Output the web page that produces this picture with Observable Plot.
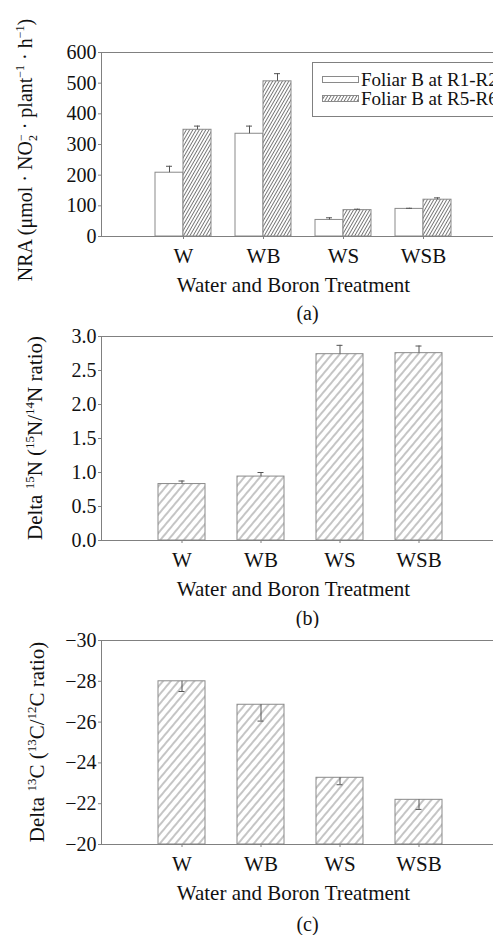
<!DOCTYPE html>
<html><head><meta charset="utf-8">
<script src="https://cdn.jsdelivr.net/npm/d3@7"></script>
<script src="https://cdn.jsdelivr.net/npm/@observablehq/plot@0.6"></script>
<style>
html,body{margin:0;padding:0;background:#fff;overflow:hidden;width:493px;height:935px}
#chart svg{display:block}
</style></head><body><div id="chart"></div>
<script>
// ---- data ----
const treatments = ["W", "WB", "WS", "WSB"];
const legendLabels = ["Foliar B at R1-R2", "Foliar B at R5-R6"];
const nraR1R2 = [208, 335, 54, 90];
const nraR1R2Err = [21, 25, 7, 2];
const nraR5R6 = [348, 506, 86, 120];
const nraR5R6Err = [12, 25, 3, 6];
const n15 = [0.83, 0.94, 2.74, 2.755];
const n15Err = [0.045, 0.06, 0.13, 0.105];
const c13 = [-28.0, -26.85, -23.27, -22.19];
const c13Err = [0.5, 0.8, 0.34, 0.47];
const nraTicks = [0, 100, 200, 300, 400, 500, 600];
const n15Ticks = [0, 0.5, 1, 1.5, 2, 2.5, 3];
const c13Ticks = [-30, -28, -26, -24, -22, -20];
const xTitle = "Water and Boron Treatment";
const captions = ["(a)", "(b)", "(c)"];

// ---- styles ----
const FONT = "'Liberation Serif', 'Times New Roman', serif";
const AXIS = "#808080";
const BAR = "#8a8a8a";
const TXT = "#111";
const W = 500;

const nraTable = treatments.map((t, i) => ({t, a: nraR1R2[i], ae: nraR1R2Err[i], b: nraR5R6[i], be: nraR5R6Err[i]}));
const n15Table = treatments.map((t, i) => ({t, v: n15[i], e: n15Err[i]}));
const c13Table = treatments.map((t, i) => ({t, v: c13[i], e: c13Err[i]}));

function common({yTicks, yFormat, caption, capDy}) {
  return [
    Plot.frame({stroke: AXIS}),
    Plot.axisX({stroke: AXIS, fill: TXT, tickSize: 3, tickPadding: 9, fontSize: 21, fontFamily: FONT, label: null}),
    Plot.axisY({ticks: yTicks, tickFormat: yFormat, stroke: AXIS, fill: TXT, tickSize: 3, tickPadding: 2, fontSize: 20, fontFamily: FONT, label: null}),
    Plot.text([xTitle], {text: d => d, frameAnchor: "bottom", dy: 49, dx: -7.5, fontSize: 21, fontFamily: FONT, fill: TXT, lineAnchor: "middle"}),
    Plot.text([caption], {text: d => d, frameAnchor: "bottom", dy: capDy, dx: 6.5, fontSize: 20, fontFamily: FONT, fill: TXT, lineAnchor: "middle"})
  ];
}

function addPatterns(svg) {
  const defs = d3.select(svg).insert("defs", ":first-child");
  const mk = (id, w, rot, sw, col) => {
    const p = defs.append("pattern").attr("id", id).attr("patternUnits", "userSpaceOnUse")
      .attr("width", w).attr("height", 10).attr("patternTransform", `rotate(${rot})`);
    p.append("rect").attr("width", w).attr("height", 10).attr("fill", "#fff");
    p.append("line").attr("x1", w / 2).attr("x2", w / 2).attr("y1", 0).attr("y2", 10)
      .attr("stroke", col).attr("stroke-width", sw);
  };
  mk("hatchDense", 2.8, 30, 0.85, "#5e5e5e");
  mk("hatchSparse", 6.0, 40, 0.6, "#3a3a3a");
}

function yLabel(svg, x, y, fsz, parts) {
  const t = d3.select(svg).append("text")
    .attr("transform", `translate(${x},${y}) rotate(-90)`)
    .attr("text-anchor", "middle").attr("font-size", fsz).attr("fill", TXT)
    .style("font-family", FONT);
  for (const p of parts) {
    const s = t.append("tspan").text(p.s);
    if (p.dy) s.attr("dy", p.dy);
    if (p.dx) s.attr("dx", p.dx);
    if (p.fs) s.attr("font-size", p.fs);
  }
}

const style = {fontFamily: FONT, fontSize: "20px", color: TXT, background: "#fff", maxWidth: "none", overflow: "hidden"};

// ---- panel (a) ----
const pa = Plot.plot({
  width: W, height: 325, marginLeft: 101, marginRight: 0, marginTop: 52, marginBottom: 89,
  style,
  x: {type: "band", domain: treatments, range: [143, 463], paddingInner: 0.65, paddingOuter: 0.325, axis: null},
  y: {domain: [0, 600], axis: null},
  marks: [
    Plot.barY(nraTable, {x: "t", y: "a", dx: -14, fill: "#fff", stroke: BAR}),
    Plot.barY(nraTable, {x: "t", y: "b", dx: 14, fill: "url(#hatchDense)", stroke: BAR}),
    Plot.ruleX(nraTable, {x: "t", y1: "a", y2: d => d.a + d.ae, dx: -14, stroke: "#555"}),
    Plot.tickY(nraTable, {x: "t", y: d => d.a + d.ae, dx: -14, insetLeft: 11, insetRight: 11, stroke: "#555"}),
    Plot.ruleX(nraTable, {x: "t", y1: "b", y2: d => d.b + d.be, dx: 14, stroke: "#555"}),
    Plot.tickY(nraTable, {x: "t", y: d => d.b + d.be, dx: 14, insetLeft: 11, insetRight: 11, stroke: "#555"}),
    ...common({yTicks: nraTicks, yFormat: d3.format("d"), caption: captions[0], capDy: 77.5})
  ]
});
addPatterns(pa);
yLabel(pa, 32, 150, 20, [
  {s: "NRA (μmol · NO"}, {s: "2", fs: 12, dy: 5}, {s: "−", fs: 12, dx: -6, dy: -12},
  {s: " · plant", dy: 7}, {s: "−1", fs: 12, dy: -8}, {s: " · h", dy: 8}, {s: "−1", fs: 12, dy: -8}, {s: ")", dy: 8}
]);
// legend
{
  const g = d3.select(pa).append("g").attr("font-size", 19).attr("fill", TXT)
    .attr("text-anchor", "start").style("font-family", FONT);
  g.append("rect").attr("x", 312.5).attr("y", 62.5).attr("width", 220).attr("height", 54).attr("fill", "#fff").attr("stroke", AXIS);
  const fills = ["#fff", "url(#hatchDense)"];
  legendLabels.forEach((lab, i) => {
    const yb = 86 + i * 19;
    g.append("rect").attr("x", 322.5).attr("y", yb - 9.5).attr("width", 36).attr("height", 6).attr("fill", fills[i]).attr("stroke", BAR);
    g.append("text").attr("x", 361).attr("y", yb).attr("text-anchor", "start").text(lab);
  });
}

// ---- panel (b) ----
const pb = Plot.plot({
  width: W, height: 303, marginLeft: 101, marginRight: 0, marginTop: 11, marginBottom: 88,
  style,
  x: {type: "band", domain: treatments, range: [142.5, 458.5], paddingInner: 0.4, paddingOuter: 0.2, axis: null},
  y: {domain: [0, 3], axis: null},
  marks: [
    Plot.barY(n15Table, {x: "t", y: "v", fill: "url(#hatchSparse)", stroke: BAR}),
    Plot.ruleX(n15Table, {x: "t", y1: "v", y2: d => d.v + d.e, stroke: "#555"}),
    Plot.tickY(n15Table, {x: "t", y: d => d.v + d.e, insetLeft: 20.5, insetRight: 20.5, stroke: "#555"}),
    ...common({yTicks: n15Ticks, yFormat: d3.format(".1f"), caption: captions[1], capDy: 78})
  ]
});
addPatterns(pb);
yLabel(pb, 42, 113, 21, [
  {s: "Delta "}, {s: "15", fs: 13, dy: -8}, {s: "N (", dy: 8}, {s: "15", fs: 13, dy: -8},
  {s: "N/", dy: 8}, {s: "14", fs: 13, dy: -8}, {s: "N ratio)", dy: 8}
]);

// ---- panel (c) ----
const minusFmt = d => (d < 0 ? "\u2212" + Math.abs(d) : String(d));
const pc = Plot.plot({
  width: W, height: 307, marginLeft: 101, marginRight: 0, marginTop: 12, marginBottom: 91,
  style,
  x: {type: "band", domain: treatments, range: [142.5, 458.5], paddingInner: 0.4, paddingOuter: 0.2, axis: null},
  y: {domain: [d3.max(c13Ticks), d3.min(c13Ticks)], axis: null},
  marks: [
    Plot.barY(c13Table, {x: "t", y1: () => d3.max(c13Ticks), y2: "v", fill: "url(#hatchSparse)", stroke: BAR}),
    Plot.ruleX(c13Table, {x: "t", y1: "v", y2: d => d.v + d.e, stroke: "#555"}),
    Plot.tickY(c13Table, {x: "t", y: d => d.v + d.e, insetLeft: 20.5, insetRight: 20.5, stroke: "#555"}),
    ...common({yTicks: c13Ticks, yFormat: minusFmt, caption: captions[2], capDy: 80})
  ]
});
addPatterns(pc);
yLabel(pc, 44, 114, 21, [
  {s: "Delta "}, {s: "13", fs: 13, dy: -8}, {s: "C (", dy: 8}, {s: "13", fs: 13, dy: -8},
  {s: "C/", dy: 8}, {s: "12", fs: 13, dy: -8}, {s: "C ratio)", dy: 8}
]);

const root = document.getElementById("chart");
root.append(pa, pb, pc);
</script>
</body></html>
